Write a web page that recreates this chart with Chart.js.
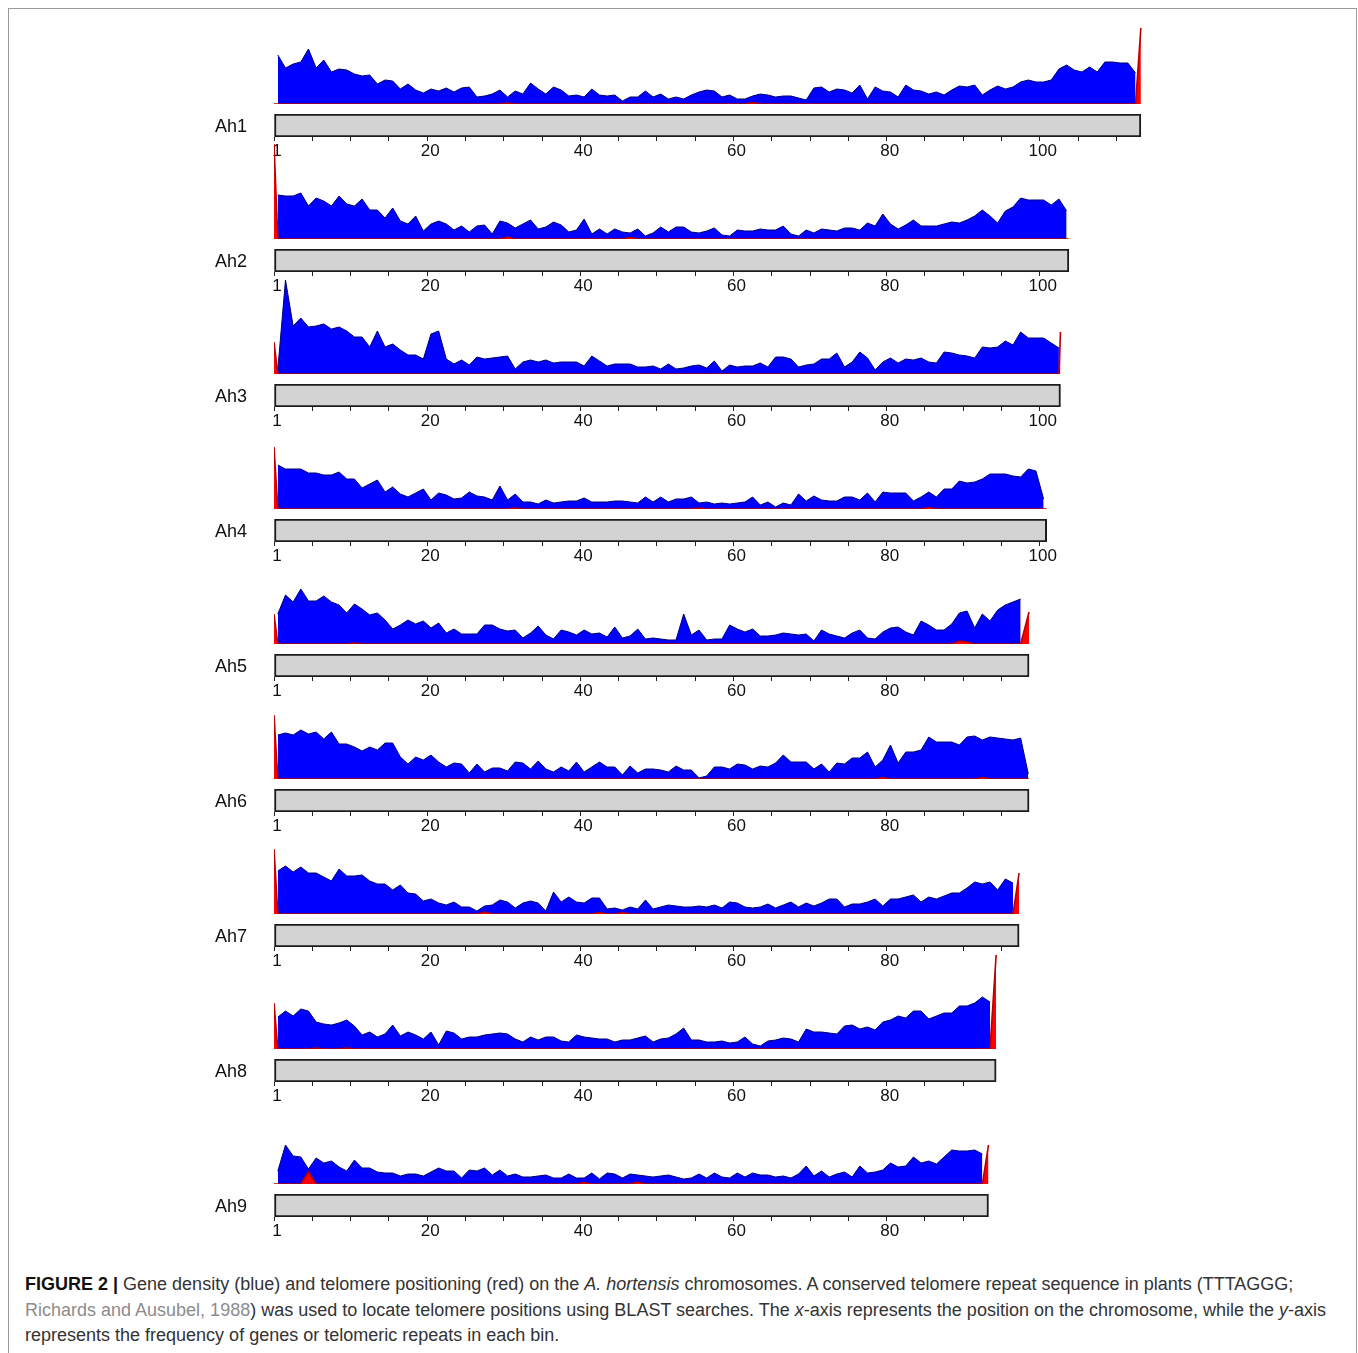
<!DOCTYPE html>
<html>
<head>
<meta charset="utf-8">
<script src="https://cdn.jsdelivr.net/npm/chart.js@4.4.1/dist/chart.umd.min.js"></script>
<style>
html,body{margin:0;padding:0;background:#fff;}
body{width:1358px;height:1353px;position:relative;overflow:hidden;font-family:"Liberation Sans",Arial,Helvetica,sans-serif;}
#frame{position:absolute;left:8px;top:8px;width:1349px;height:1370px;border:1px solid #9a9a9a;box-sizing:border-box;}
.box{position:absolute;}
.caption{position:absolute;left:25px;top:1272px;font-size:18px;line-height:25.5px;color:#333;white-space:nowrap;}
.caption b{color:#111;}
.caption .ref{color:#8c8c8c;}
</style>
</head>
<body>
<div id="frame"></div>
<div id="charts"></div>
<div class="caption"><b>FIGURE 2 |</b> Gene density (blue) and telomere positioning (red) on the <i>A. hortensis</i> chromosomes. A conserved telomere repeat sequence in plants (TTTAGGG;<br><span class="ref">Richards and Ausubel, 1988</span>) was used to locate telomere positions using BLAST searches. The <i>x</i>-axis represents the position on the chromosome, while the <i>y</i>-axis<br>represents the frequency of genes or telomeric repeats in each bin.</div>
<script>
// ---------------- DATA ----------------
const chromosomes = ['Ah1','Ah2','Ah3','Ah4','Ah5','Ah6','Ah7','Ah8','Ah9'];
const chromLength = [113.2, 103.8, 102.7, 100.9, 98.6, 98.6, 97.3, 94.3, 93.3];
const tickStep = 5;
const labelEvery = 20;
const firstTickLabel = '1';

// gene density per bin (blue)
const geneAh1 = [49,36,40,42,55,36,44,32,35,34,30,28,29,20,24,23,15,20,14,11,15,13,16,12,16,17,7,8,10,14,7,13,10,21,15,10,17,14,8,9,7,15,9,8,9,3,7,7,13,7,10,5,7,5,9,12,
  14,13,7,9,5,5,8,10,9,7,8,8,6,4,16,17,12,15,14,11,19,5,17,13,12,7,19,14,13,10,12,9,14,18,17,19,9,14,18,15,17,22,24,22,22,24,35,39,34,32,37,32,42,42,41,41,31];
const geneAh2 = [44,43,43,46,33,41,38,33,43,35,33,40,29,29,21,31,18,15,23,8,15,18,15,9,13,7,13,14,5,18,16,11,15,19,10,12,17,14,7,9,20,5,10,5,10,7,6,10,3,6,12,7,12,12,7,6,
  8,11,4,3,9,8,8,10,9,9,13,5,3,9,6,10,9,8,11,11,9,16,13,25,15,10,14,19,13,13,13,15,17,16,19,23,29,23,16,28,32,41,39,39,39,34,40,28];
const geneAh3 = [5,94,48,56,47,48,50,45,47,43,37,37,27,43,27,30,24,19,19,15,40,43,15,10,14,9,17,15,16,17,18,5,12,14,12,14,11,12,12,12,8,18,13,8,10,10,10,7,7,8,5,10,5,6,8,9,
  6,13,3,9,7,8,8,11,7,17,17,15,7,9,10,15,15,21,7,12,22,16,4,12,16,11,15,14,16,12,11,22,21,19,18,16,27,26,27,33,29,42,36,36,36,31,26];
const geneAh4 = [44,40,40,40,36,36,34,34,37,30,30,21,25,29,17,22,15,12,16,20,9,16,14,10,11,17,13,12,9,23,9,15,7,7,5,9,6,7,8,8,11,7,7,7,8,8,7,6,12,7,12,7,10,10,12,6,7,5,6,5,
  6,7,12,4,7,2,6,4,15,8,13,9,8,8,12,12,9,16,7,17,16,16,16,8,12,17,12,20,20,28,26,27,30,35,35,35,33,32,40,38,10];
const geneAh5 = [30,49,42,55,43,43,48,42,39,31,40,35,29,31,24,15,19,24,20,23,16,21,11,15,10,10,10,19,19,15,13,14,6,11,18,9,5,14,12,9,14,10,11,7,17,6,8,15,5,6,5,4,4,30,9,
  14,4,5,5,19,15,12,15,8,8,9,11,10,9,10,3,14,10,8,6,11,14,6,5,12,16,17,12,9,23,19,14,14,20,31,33,16,30,23,34,39,42,45];
const geneAh6 = [44,46,44,49,45,47,40,47,35,35,32,28,32,29,36,36,22,15,22,19,24,17,12,16,15,6,15,7,11,11,8,17,16,10,18,10,7,12,8,17,7,12,17,12,12,4,13,6,10,10,9,7,13,9,9,
  1,3,12,12,10,15,14,10,13,12,16,24,17,17,17,10,15,7,16,15,21,21,27,12,19,34,16,27,27,29,42,37,37,37,34,42,43,39,42,41,40,39,41,5];
const geneAh7 = [43,48,42,47,41,41,37,33,45,38,38,39,33,30,30,24,29,21,20,13,15,11,9,12,7,7,3,8,9,14,12,6,11,13,11,3,22,12,17,12,11,16,16,5,6,4,7,5,14,5,7,9,8,7,7,
  8,7,9,6,12,11,7,6,7,10,6,9,12,7,11,8,11,15,15,7,10,10,12,15,8,15,15,17,19,12,17,15,18,21,21,26,32,30,32,24,35,31];
const geneAh8 = [32,38,33,40,38,27,25,24,26,29,23,14,17,12,15,24,13,17,14,10,17,4,18,16,10,12,12,14,15,16,15,10,7,12,9,12,12,8,7,14,12,11,10,10,7,9,9,11,13,7,
  10,11,15,21,9,9,7,7,8,6,7,12,5,3,8,9,11,10,7,20,17,17,16,15,23,24,20,22,19,27,29,33,31,38,38,30,33,36,36,43,43,46,52,47];
const geneAh9 = [13,39,28,27,15,26,21,23,17,13,24,16,16,12,11,11,8,10,10,8,12,16,13,13,6,14,13,16,9,14,8,10,7,7,8,9,6,6,10,6,6,11,5,11,10,6,10,9,8,7,
  8,9,7,5,6,10,6,11,7,6,11,7,11,9,9,7,8,6,10,18,8,13,7,10,12,7,18,11,12,14,21,17,18,27,21,23,20,27,34,33,33,34,30];

// telomere repeats (red): chromosome start, bins..., chromosome end
const teloAh1 = [0,
  0,0,0,0,0,0,0,0,0,0, 0,0,0,0,0,0,0,0,0,0, 0,0,0,0,0,0,0,0,0,0, 1,0,0,0,0,0,0,0,0,0,
  0,0,0,0,0,0,0,0,0,0, 0,0,0,0,0,0,0,0,0,0, 0,0,1.5,0,0,0,0,0,0,0, 0,0,0,0,0,0,0,0,0,0,
  0,0,0,0,0,0,0,0,0,0, 0,0,0,0,0,0,0,0,0,0, 0,0,0,0,0,0,0,0,0,0, 0,0,0,
  76];
const teloAh2 = [95,
  0,0,0,0,0,0,0,0,0,0, 0,0,0,0,0,0,0,0,0,0, 0,0,0,0,0,0,0,0,0,0, 2,0,0,0,0,0,0,0,0,0,
  0,0,0,0,0,0,1.5,0,0,0, 0,0,0,0,0,0,0,0,0,0, 0,0,0,0,0,0,0,0,0,0, 0,0,0,0,0,0,0,0,0,0,
  0,0,0,0,0,0,0,0,0,0, 0,0,0,0,0,0,0,0,0,0, 0,0,0,0,
  0];
const teloAh3 = [32,
  0,0,0,0,0,0,0,0,0,0, 0,0,0,0,0,0,0,0,0,0, 0,0,0,0,0,0,0,0,0,0, 0,0,0,0,0,0,0,0,0,0,
  0,0,0,0,0,0,0,0,0,0, 0,0,0,0,0,0,0,0,0,0, 0,0,0,0,0,0,0,0,0,0, 0,0,0,0,0,0,0,0,0,0,
  0,0,0,0,0,0,0,0,0,0, 0,0,0,0,0,0,0,0,0,0, 0,0,0,
  42];
const teloAh4 = [62,
  0,0,0,0,0,0,0,0,0,0, 0,0,0,0,0,0,0,0,0,0, 0,0,0,0,0,0,0,0,0,0, 0,1,0,0,0,0,0,0,0,0,
  0,0,0,0,0,0,0,0,0,0, 0,0,0,0,0,1,0,0,0,0, 0,0,0,0,0,0,0,0,0,0, 0,0,0,0,0,0,0,0,0,0,
  0,0,0,0,0,1.5,0,0,0,0, 0,0,0,0,0,0,0,0,0,0, 0,
  0];
const teloAh5 = [30,
  0,0,0,0,0,0,0,0,0,0, 1,0,0,0,0,0,0,0,0,0, 0,0,0,0,0,0,0,0,0,0, 0,0,0,0,0,0,0,0,0,0,
  0,0,0,0,0,0,0,0,0,0, 0,0,0,0,0,0,0,0,0,0, 0,0,0,0,0,0,0,0,0,0, 0,0,0,0,0,0,0,0,0,0,
  0,0,0,0,0,0,0,0,0,3, 2,0,0,0,0,0,0,0,
  32];
const teloAh6 = [64,
  0,0,0,0,0,0,0,0,0,0, 0,0,0,0,0,0,0,0,0,0, 0,0,0,0,0,0,0,0,0,0, 0,0,0,0,0,0,0,0,0,0,
  0,0,0,0,0,0,0,0,0,0, 0,0,0,0,0,0,0,0,0,0, 0,0,0,0,0,0,0,0,0,0, 0,0,0,0,0,0,0,0,0,1.5,
  0,0,0,0,0,0,0,0,0,0, 0,0,1.5,0,0,0,0,0,0,
  0];
const teloAh7 = [65,
  0,0,0,0,0,0,0,0,0,0, 0,0,0,0,0,0,0,0,0,0, 0,0,0,0,0,0,0,2,0,0, 0,0,0,0,0,0,0,0,0,0,
  0,0,1.5,0,0,1.5,0,0,0,0, 0,0,0,0,0,0,0,0,0,0, 0,0,0,0,0,0,0,0,0,0, 0,0,0,0,0,0,0,0,0,0,
  0,0,0,0,0,0,0,0,0,0, 0,0,0,0,0,0,0,
  41];
const teloAh8 = [46,
  0,0,0,0,0,1,0,0,0,1, 0,0,0,0,0,0,0,0,0,0, 0,0,0,0,0,0,0,0,0,0, 0,0,0,0,0,0,0,0,0,0,
  0,0,0,0,0,0,0,0,0,0, 0,0,0,0,0,0,0,0,0,0, 0,0,0,0,0,0,0,0,0,0, 0,0,0,0,0,0,0,0,0,0,
  0,0,0,0,0,0,0,0,0,0, 0,0,0,0,
  94];
const teloAh9 = [0,
  0,0,0,0,12,0,0,0,0,0, 0,0,0,0,0,0,0,0,0,0, 0,0,0,0,0,0,0,0,0,0, 0,0,0,0,0,0,0,0,0,0,
  1.5,0,0,0,0,0,0,2,0,0, 0,0,0,0,0,0,0,0,0,0, 0,0,0,0,0,0,0,0,0,0, 0,0,0,0,0,0,0,0,0,0,
  0,0,0,0,0,0,0,0,0,0, 0,0,0,
  39];

const geneData = [geneAh1, geneAh2, geneAh3, geneAh4, geneAh5, geneAh6, geneAh7, geneAh8, geneAh9];
const teloData = [teloAh1, teloAh2, teloAh3, teloAh4, teloAh5, teloAh6, teloAh7, teloAh8, teloAh9];

// ---------------- LAYOUT ----------------
const PLOT_LEFT = 274, PLOT_W = 873, XMAX = 114;
const LABEL_LEFT = 215;
const FIRST_BASE = 104, PITCH = 135, AREA_H = 100, YMAX = 100;
const BAR_GAP = 10, BAR_H = 23, AXIS_H = 30;
const NAME_LH = 20;                 // line height of chromosome name (px)
const TOP_PAD = NAME_LH / 2;        // padding Chart.js reserves above the category label
const FONT = '"Liberation Sans", Arial, Helvetica, sans-serif';

Chart.defaults.font.family = FONT;
Chart.defaults.animation = false;

const holder = document.getElementById('charts');
function makeCanvas(left, top, w, h) {
  const d = document.createElement('div');
  d.className = 'box';
  d.style.left = left + 'px'; d.style.top = top + 'px';
  d.style.width = w + 'px'; d.style.height = h + 'px';
  const c = document.createElement('canvas');
  c.width = w; c.height = h;
  c.style.width = w + 'px'; c.style.height = h + 'px';
  c.style.display = 'block';
  d.appendChild(c);
  holder.appendChild(d);
  return c;
}

chromosomes.forEach((name, k) => {
  const base = FIRST_BASE + PITCH * k;
  const len = chromLength[k];
  const gene = geneData[k];
  const telo = teloData[k];
  const genePts = gene.map((v, i) => ({x: i + 0.5, y: v}));
  const last = telo.length - 1;
  const teloPts = telo.map((v, i) => ({x: i === 0 ? 0 : (i === last ? len : i - 0.5), y: v}));

  // density area chart
  const ca = makeCanvas(PLOT_LEFT, base - AREA_H, PLOT_W, AREA_H + 2);
  new Chart(ca, {
    type: 'line',
    data: {datasets: [
      {label: 'Telomere', data: teloPts, borderColor: '#b80000', backgroundColor: '#ff0000',
       fill: 'origin', borderWidth: 1.6, pointRadius: 0, tension: 0},
      {label: 'Gene density', data: genePts, borderColor: '#00006e', backgroundColor: '#0000ff',
       fill: 'origin', borderWidth: 1, pointRadius: 0, tension: 0}
    ]},
    options: {
      responsive: false, animation: false,
      layout: {padding: {left: 0, right: 0, top: 0, bottom: 2}},
      plugins: {legend: {display: false}, tooltip: {enabled: false}},
      scales: {
        x: {type: 'linear', min: 0, max: XMAX, display: false},
        y: {type: 'linear', min: 0, max: YMAX, display: false}
      }
    }
  });

  // chromosome bar + axis
  const yAxisW = PLOT_LEFT - LABEL_LEFT;
  const cb = makeCanvas(LABEL_LEFT, base + BAR_GAP - TOP_PAD, yAxisW + PLOT_W, TOP_PAD + BAR_H + AXIS_H);
  new Chart(cb, {
    type: 'bar',
    data: {labels: [name], datasets: [{
      data: [[0, len]], backgroundColor: '#d3d3d3', borderColor: '#1c1c1c', borderWidth: 2,
      borderSkipped: false, categoryPercentage: 1, barPercentage: 1
    }]},
    options: {
      indexAxis: 'y', responsive: false, animation: false,
      layout: {padding: 0},
      plugins: {legend: {display: false}, tooltip: {enabled: false}},
      scales: {
        x: {
          type: 'linear', min: 0, max: XMAX, position: 'bottom',
          afterBuildTicks: s => {
            const t = [];
            for (let v = 0; v <= len + 1e-9; v += tickStep) t.push({value: v});
            s.ticks = t;
          },
          afterFit: s => { s.height = AXIS_H; },
          ticks: {autoSkip: false, maxRotation: 0, minRotation: 0, padding: 0, labelOffset: 3,
                  color: '#111', font: {size: 17},
                  callback: v => v === 0 ? firstTickLabel : (v % labelEvery === 0 ? String(v) : '')},
          grid: {display: true, drawOnChartArea: false, drawTicks: true, tickLength: 4, color: '#222', lineWidth: 1},
          border: {display: false}
        },
        y: {
          type: 'category', position: 'left',
          afterFit: s => { s.width = yAxisW; },
          ticks: {color: '#111', font: {size: 18, lineHeight: NAME_LH + 'px'}, padding: 0, crossAlign: 'far', labelOffset: 2},
          grid: {display: false, drawTicks: false},
          border: {display: false}
        }
      }
    }
  });
});
</script>
</body>
</html>
